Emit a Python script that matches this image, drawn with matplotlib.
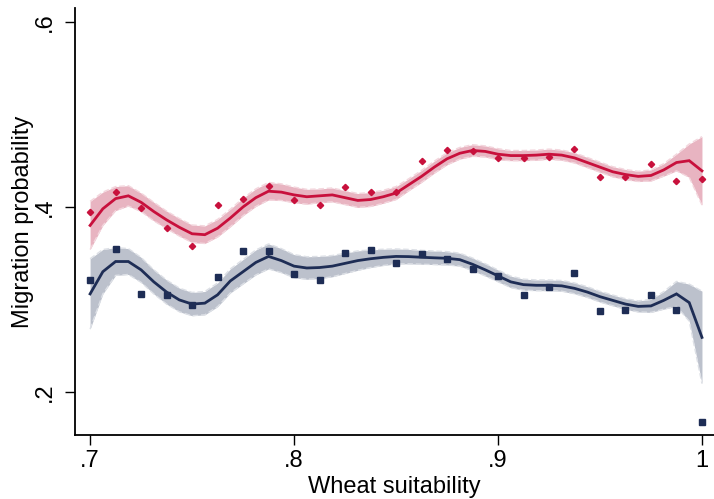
import numpy as np
import matplotlib
matplotlib.use("Agg")
import matplotlib.pyplot as plt

plt.rcParams['font.family'] = ['Liberation Sans', 'DejaVu Sans']

# Binned means (scatter), bins of width 0.0125 starting at 0.7
bin_x = np.round(0.7 + 0.0125 * np.arange(25), 4)
red_bins = [0.394, 0.416, 0.399, 0.377, 0.358, 0.402, 0.409, 0.423, 0.407, 0.402,
            0.422, 0.416, 0.416, 0.450, 0.462, 0.460, 0.453, 0.453, 0.454, 0.463,
            0.432, 0.432, 0.446, 0.428, 0.430]
navy_bins = [0.321, 0.355, 0.306, 0.305, 0.294, 0.324, 0.352, 0.352, 0.328, 0.321,
             0.350, 0.353, 0.339, 0.349, 0.344, 0.333, 0.325, 0.305, 0.313, 0.329,
             0.288, 0.289, 0.305, 0.289, 0.168]

# Local polynomial fits evaluated on a grid of 49 points
grid_x = np.round(0.7 + 0.00625 * np.arange(49), 5)
red_fit = [0.380, 0.398, 0.409, 0.412, 0.405, 0.395, 0.386, 0.378, 0.371, 0.370,
           0.377, 0.388, 0.400, 0.410, 0.417, 0.416, 0.413, 0.411, 0.412, 0.413,
           0.410, 0.407, 0.408, 0.411, 0.415, 0.424, 0.433, 0.443, 0.452, 0.458,
           0.461, 0.460, 0.457, 0.4555, 0.4555, 0.456, 0.457, 0.456, 0.453, 0.448,
           0.443, 0.438, 0.435, 0.433, 0.434, 0.440, 0.448, 0.450, 0.439]
red_half = [0.026, 0.018, 0.013, 0.011, 0.010, 0.010, 0.0095, 0.0095, 0.0095, 0.0095,
            0.0095, 0.0095, 0.0095, 0.0095, 0.0095, 0.009, 0.0085, 0.008, 0.0075, 0.0075,
            0.0075, 0.0075, 0.0075, 0.007, 0.007, 0.0065, 0.0065, 0.0065, 0.0065, 0.0063,
            0.0063, 0.006, 0.006, 0.0055, 0.0055, 0.0055, 0.0055, 0.0055, 0.0055, 0.0055,
            0.0055, 0.0055, 0.0055, 0.0055, 0.006, 0.0067, 0.009, 0.018, 0.037]
navy_fit = [0.306, 0.330, 0.341, 0.341, 0.332, 0.319, 0.308, 0.2995, 0.295, 0.296,
            0.305, 0.320, 0.330, 0.340, 0.3465, 0.342, 0.336, 0.334, 0.3345, 0.336,
            0.339, 0.342, 0.344, 0.3455, 0.3465, 0.3463, 0.3456, 0.345, 0.3445, 0.343,
            0.338, 0.332, 0.3255, 0.319, 0.316, 0.3153, 0.3153, 0.3147, 0.312, 0.308,
            0.303, 0.299, 0.295, 0.2925, 0.293, 0.299, 0.306, 0.2966, 0.259]
navy_half = [0.038, 0.024, 0.015, 0.014, 0.0135, 0.013, 0.013, 0.0128, 0.0126, 0.0126,
             0.0128, 0.013, 0.0132, 0.0135, 0.0135, 0.013, 0.0125, 0.0122, 0.012, 0.0115,
             0.011, 0.0105, 0.0095, 0.0088, 0.0081, 0.0078, 0.0075, 0.0073, 0.0072, 0.007,
             0.0068, 0.0066, 0.0064, 0.0062, 0.006, 0.0058, 0.0058, 0.0058, 0.0058, 0.0058,
             0.0058, 0.0058, 0.0058, 0.006, 0.007, 0.0095, 0.0135, 0.020, 0.050]

x_ticks = [0.7, 0.8, 0.9, 1.0]
x_labels = [".7", ".8", ".9", "1"]
y_ticks = [0.2, 0.4, 0.6]
y_labels = [".2", ".4", ".6"]

RED = "#c8103c"
RED_FILL = "#e8b4c1"
RED_EDGE = "#f3d6dd"
NAVY = "#1e2d55"
NAVY_FILL = "#bcc1cc"
NAVY_EDGE = "#dde0e6"

fig = plt.figure(figsize=(7.14, 4.99), dpi=100)
ax = fig.add_axes([75 / 714, 1 - 435 / 499, 1 - 75 / 714, (435 - 8) / 499])

for fit, half, fill, edge, line in [(navy_fit, navy_half, NAVY_FILL, NAVY_EDGE, NAVY),
                                     (red_fit, red_half, RED_FILL, RED_EDGE, RED)]:
    fit = np.asarray(fit)
    half = np.asarray(half)
    lo, hi = fit - half, fit + half
    ax.fill_between(grid_x, lo, hi, color=fill, lw=0, zorder=1)
    ax.plot(grid_x, lo, color=edge, lw=1.0, ls=(0, (4, 2)), zorder=2)
    ax.plot(grid_x, hi, color=edge, lw=1.0, ls=(0, (4, 2)), zorder=2)
    ax.plot(grid_x, fit, color=line, lw=2.0, zorder=3, solid_joinstyle='miter')

ax.plot(bin_x, red_bins, ls='none', marker='D', ms=3.2, color=RED, mec=RED, zorder=4)
ax.plot(bin_x, navy_bins, ls='none', marker='s', ms=4.6, color=NAVY, mec=NAVY, zorder=4)

ax.set_xlim(0.6926, 1.0059)
ax.set_ylim(0.1535, 0.615)
ax.set_xticks(x_ticks)
ax.set_xticklabels(x_labels)
ax.set_yticks(y_ticks)
ax.set_yticklabels(y_labels, rotation=90, va='center')

for side in ['top', 'right']:
    ax.spines[side].set_visible(False)
for side in ['left', 'bottom']:
    ax.spines[side].set_linewidth(1.3)
    ax.spines[side].set_color('black')

ax.tick_params(axis='both', direction='out', length=7, width=1.0, labelsize=17, colors='black')
ax.tick_params(axis='x', pad=4)
ax.tick_params(axis='y', pad=7)

ax.set_xlabel("Wheat suitability", fontsize=17, labelpad=3)
ax.set_ylabel("Migration probability", fontsize=17, labelpad=0)

fig.savefig("out.png", dpi=100, facecolor='white')
